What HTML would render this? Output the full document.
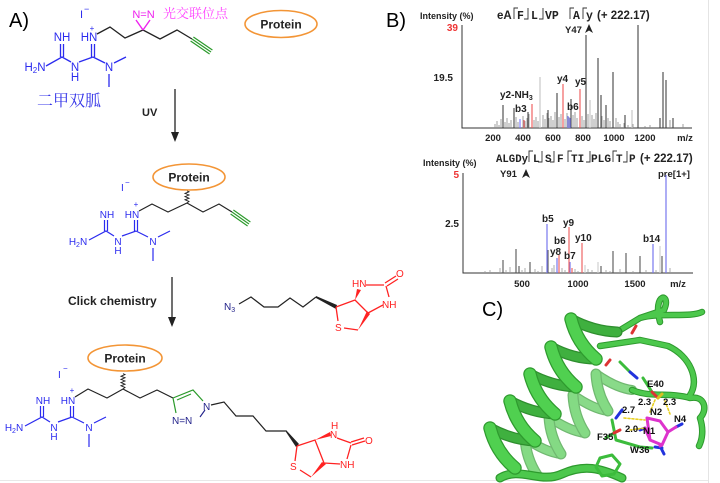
<!DOCTYPE html>
<html><head><meta charset="utf-8"><style>
html,body{margin:0;padding:0;background:#fff;}
svg{display:block;font-family:"Liberation Sans",Arial,sans-serif;}
</style></head><body>
<svg width="720" height="483" viewBox="0 0 720 483" xmlns="http://www.w3.org/2000/svg">
<rect width="720" height="483" fill="#fff"/>
<line x1="708.5" y1="0" x2="708.5" y2="483" stroke="#e4e4e4" stroke-width="1"/>
<line x1="0" y1="480.5" x2="708" y2="480.5" stroke="#e8e8e8" stroke-width="1"/>

<!-- Panel labels -->
<text x="9" y="27" font-size="20">A)</text>
<text x="386" y="27" font-size="20">B)</text>
<text x="482" y="316" font-size="20">C)</text>

<!-- ===== TOP STRUCTURE ===== -->
<g transform="translate(91,37)">
 <g fill="#2b2bef" font-size="11.5">
  <text x="-29" y="4" text-anchor="middle">NH</text>
  <text x="-2" y="4" text-anchor="middle">HN</text>
  <text x="1" y="-6" font-size="8" text-anchor="middle">+</text>
  <text x="-56" y="34" text-anchor="middle">H<tspan font-size="8" dy="2">2</tspan><tspan dy="-2">N</tspan></text>
  <text x="-16" y="34" text-anchor="middle">N</text>
  <text x="-16" y="44" text-anchor="middle">H</text>
  <text x="18" y="34" text-anchor="middle">N</text>
 </g>
 <g stroke="#2b2bef" stroke-width="1.3" fill="none">
  <path d="M-30.5 7V20M-27.5 7V20M-45 29L-29 20L-20 25M-12 25L2 20M0.5 20V7M3.5 20V7M2 20L14 26M23 26L35 20M18 37V50"/>
 </g>
</g>
<text x="80" y="18" font-size="11" fill="#2b2bef">I</text>
<text x="84" y="12" font-size="9" fill="#2b2bef">−</text>
<path d="M97 34L110 27L125 38L143 30L160 39L177 30L192 39" fill="none" stroke="#222" stroke-width="1.3"/>
<path d="M143 30L136 20M143 30L150 20" stroke="#ee22ee" stroke-width="1.4" fill="none"/>
<text x="143.5" y="18" font-size="11" fill="#ee22ee" text-anchor="middle">N=N</text>
<g stroke="#2a9a2a" stroke-width="1.2">
 <line x1="192" y1="39" x2="211" y2="52"/>
 <line x1="190.6" y1="41" x2="209.6" y2="54"/>
 <line x1="193.4" y1="37" x2="212.4" y2="50"/>
</g>
<text x="163" y="18" font-size="13" fill="#ff44ff" style="font-family:'Noto Serif CJK SC','Noto Sans CJK SC',serif">光交联位点</text>
<text x="37" y="106" font-size="16" fill="#3535e8" style="font-family:'Noto Serif CJK SC','Noto Sans CJK SC',serif">二甲双胍</text>
<ellipse cx="281" cy="24" rx="36" ry="13.5" fill="none" stroke="#f39536" stroke-width="1.6"/>
<text x="281" y="28.5" font-size="12" font-weight="bold" text-anchor="middle" fill="#222">Protein</text>

<!-- Arrow 1 -->
<line x1="175" y1="89" x2="175" y2="134" stroke="#222" stroke-width="1.3"/>
<polygon points="171,132 179,132 175,142" fill="#222"/>
<text x="142" y="116" font-size="11" font-weight="bold" fill="#222">UV</text>

<!-- ===== MIDDLE STRUCTURE ===== -->
<g transform="translate(134,214)">
 <g fill="#2b2bef" font-size="10">
  <text x="-27" y="4" text-anchor="middle">NH</text>
  <text x="-2" y="4" text-anchor="middle">HN</text>
  <text x="2" y="-7" font-size="8" text-anchor="middle">+</text>
  <text x="-56" y="31" text-anchor="middle">H<tspan font-size="7" dy="2">2</tspan><tspan dy="-2">N</tspan></text>
  <text x="-16" y="31" text-anchor="middle">N</text>
  <text x="-16" y="40" text-anchor="middle">H</text>
  <text x="19" y="31" text-anchor="middle">N</text>
 </g>
 <g stroke="#2b2bef" stroke-width="1.2" fill="none">
  <path d="M-29.5 6V17M-26.5 6V17M-45 26L-28 17L-20 22M-12 22L2 17M0.5 17V6M3.5 17V6M2 17L14 23M24 23L36 17M19 34V47"/>
 </g>
</g>
<text x="121" y="191" font-size="10" fill="#2b2bef">I</text>
<text x="125" y="185" font-size="8" fill="#2b2bef">−</text>
<path d="M139 211L152 204L168 212L187 203L203 212L219 204L232 212" fill="none" stroke="#222" stroke-width="1.2"/>
<path d="M187 203l2-1.6l-4-1.6l4-1.6l-4-1.6l4-1.6l-4-1.6l4-1.6l-2-1" fill="none" stroke="#222" stroke-width="0.9"/>
<g stroke="#2a9a2a" stroke-width="1.1">
 <line x1="232" y1="212" x2="249" y2="224"/>
 <line x1="230.6" y1="214" x2="247.6" y2="226"/>
 <line x1="233.4" y1="210" x2="250.4" y2="222"/>
</g>
<ellipse cx="189" cy="177" rx="36" ry="13" fill="none" stroke="#f39536" stroke-width="1.6"/>
<text x="189" y="181.5" font-size="12" font-weight="bold" text-anchor="middle" fill="#222">Protein</text>

<!-- Arrow 2 -->
<line x1="172" y1="277" x2="172" y2="319" stroke="#222" stroke-width="1.3"/>
<polygon points="168,317 176,317 172,327" fill="#222"/>
<text x="68" y="305" font-size="12" font-weight="bold" fill="#222">Click chemistry</text>

<!-- Azide biotin -->
<text x="224" y="310" font-size="10" fill="#22228a">N<tspan font-size="7" dy="2">3</tspan></text>
<path d="M239 304L251 297L264 307L278 307L290 298L303 307L316 297" fill="none" stroke="#222" stroke-width="1.2"/>
<polygon points="316,296 316,298 336,309 337,305" fill="#222"/>
<g stroke="#ff2222" stroke-width="1.3" fill="none">
 <path d="M336 307L355 300L368 313M336 307L338 321M344 328L358 330M366 285L384 285M386 286L389 297M383 305L368 313"/>
 <path d="M385 283L396 276M387 286L398 279"/>
</g>
<polygon points="358,330 367,311 370,314" fill="#ff2222"/>
<polygon points="355,300 357,289 361,290" fill="#ff2222"/>
<text x="352" y="287" font-size="10" fill="#ff2222">HN</text>
<text x="396" y="277" font-size="10" fill="#ff2222">O</text>
<text x="382" y="308" font-size="10" fill="#ff2222">NH</text>
<text x="335" y="331" font-size="10" fill="#ff2222">S</text>

<!-- ===== BOTTOM STRUCTURE ===== -->
<g transform="translate(70,400)">
 <g fill="#2b2bef" font-size="10">
  <text x="-27" y="4" text-anchor="middle">NH</text>
  <text x="-2" y="4" text-anchor="middle">HN</text>
  <text x="2" y="-7" font-size="8" text-anchor="middle">+</text>
  <text x="-56" y="31" text-anchor="middle">H<tspan font-size="7" dy="2">2</tspan><tspan dy="-2">N</tspan></text>
  <text x="-16" y="31" text-anchor="middle">N</text>
  <text x="-16" y="40" text-anchor="middle">H</text>
  <text x="19" y="31" text-anchor="middle">N</text>
 </g>
 <g stroke="#2b2bef" stroke-width="1.2" fill="none">
  <path d="M-29.5 6V17M-26.5 6V17M-45 26L-28 17L-20 22M-12 22L2 17M0.5 17V6M3.5 17V6M2 17L14 23M24 23L36 17M19 34V47"/>
 </g>
</g>
<text x="58" y="378" font-size="10" fill="#2b2bef">I</text>
<text x="63" y="371" font-size="8" fill="#2b2bef">−</text>
<ellipse cx="125" cy="358" rx="37" ry="13" fill="none" stroke="#f39536" stroke-width="1.6"/>
<text x="125" y="362.5" font-size="12" font-weight="bold" text-anchor="middle" fill="#222">Protein</text>
<path d="M75 397L88 389L107 398L123 389L140 398L157 390L173 398" fill="none" stroke="#222" stroke-width="1.2"/>
<path d="M123 389l2-1.6l-4-1.6l4-1.6l-4-1.6l4-1.6l-4-1.6l4-1.6l-4-1.6l4-1.6l-2-1" fill="none" stroke="#222" stroke-width="0.9"/>
<!-- triazole -->
<g stroke="#2a9a2a" stroke-width="1.2" fill="none">
 <path d="M173 398L193 390L203 401M173 398L176 413M177 400L191 394"/>
</g>
<path d="M205 410L200 417" stroke="#22228a" stroke-width="1.1"/>
<text x="203" y="410" font-size="10" fill="#22228a">N</text>
<text x="172" y="424" font-size="10" fill="#22228a">N=N</text>
<path d="M211 405L224 402L236 416L253 416L266 431L286 431" fill="none" stroke="#222" stroke-width="1.2"/>
<polygon points="286,430 286,432 296,447 299,444" fill="#222"/>
<g stroke="#ff2222" stroke-width="1.3" fill="none">
 <path d="M297 446L315 440L324 463M297 446L295 461M300 470L311 477M337 438L351 443M347 459L351 445M340 464L324 463"/>
 <path d="M351 442L364 438M352 445L365 441"/>
</g>
<polygon points="315,440 330,432 331,436" fill="#ff2222"/>
<polygon points="311,477 322,462 326,464" fill="#ff2222"/>
<text x="331" y="429" font-size="10" fill="#ff2222">H</text>
<text x="330" y="438" font-size="10" fill="#ff2222">N</text>
<text x="365" y="444" font-size="10" fill="#ff2222">O</text>
<text x="340" y="468" font-size="10" fill="#ff2222">NH</text>
<text x="290" y="470" font-size="10" fill="#ff2222">S</text>

<!-- ===== SPECTRUM TOP ===== -->
<text x="420" y="19" font-size="9" font-weight="bold" fill="#222">Intensity (%)</text>
<text x="458" y="31" font-size="10" font-weight="bold" fill="#e33" text-anchor="end">39</text>
<text x="453" y="81" font-size="10" font-weight="bold" fill="#222" text-anchor="end">19.5</text>
<text x="497" y="19" font-size="11.5" font-weight="bold" fill="#222">eA</text>
<g style="font-family:'Liberation Mono',monospace" font-weight="bold" font-size="11.5" fill="#222">
 <text x="517" y="19">F</text><text x="531" y="19">L</text><text x="545" y="19">VP</text><text x="573" y="19">A</text><text x="586" y="19">y</text>
</g>
<path d="M514 19V8H518M528 8V19H524M543 8V19H539M570 19V8H574M583 19V8H587" fill="none" stroke="#333" stroke-width="0.9"/>
<text x="597" y="19" font-size="11.5" font-weight="bold" fill="#222">(+ 222.17)</text>
<text x="565" y="33" font-size="9.5" font-weight="bold" fill="#222">Y47</text>
<polygon points="589,24 585,33 589,30.5 593,33" fill="#222"/>
<path d="M462 25V128H692" fill="none" stroke="#333" stroke-width="1"/>
<g stroke="#888" stroke-width="0.8">
<path d="M495 128V124M497 128V121M499 128V125M501 128V119M505 128V122M507 128V118M509 128V123M511 128V120M516 128V117M518 128V122M523 128V116M525 128V121M527 128V118M529 128V114M534 128V120M536 128V117M538 128V121M543 128V115M545 128V119M547 128V113M549 128V118M551 128V116M553 128V120M555 128V112M559 128V117M561 128V114M565 128V119M567 128V113M569 128V117M573 128V115M575 128V112M577 128V118M582 128V116M584 128V120M588 128V114M590 128V118M592 128V115M594 128V119M596 128V113M602 128V116M604 128V120M606 128V114M608 128V118M610 128V121M616 128V118M618 128V122M620 128V124M624 128V123M628 128V125M633 128V124M645 128V126M650 128V125M670 128V120M683 128V124"/>
</g>
<g stroke="#444" stroke-width="1.1">
<path d="M503 128V105M514 128V108M557 128V93M571 128V99M586 128V35M598 128V58M601 128V95M613 128V72M638 128V25M663 128V72M666 128V80M660 128V118M673 128V118M548 128V110M528 128V112M606 128V105M625 128V115"/>
</g>
<path d="M540 128V77M590 128V100M632 128V110" stroke="#c4c4c4" stroke-width="1.1"/>
<path d="M532 128V104M563 128V84M580 128V89M524 128V120" stroke="#e55" stroke-width="1.1"/>
<path d="M520 128V119M568 128V116M570 128V118" stroke="#77f" stroke-width="1.1"/>
<g font-size="10" font-weight="bold" fill="#222">
 <text x="500" y="98">y2-NH<tspan font-size="7" dy="2">3</tspan></text>
 <text x="515" y="112">b3</text>
 <text x="557" y="82">y4</text>
 <text x="575" y="85">y5</text>
 <text x="567" y="110">b6</text>
</g>
<g font-size="9.5" font-weight="bold" fill="#222" text-anchor="middle">
 <text x="493" y="141">200</text><text x="523" y="141">400</text><text x="553" y="141">600</text><text x="583" y="141">800</text><text x="614" y="141">1000</text><text x="645" y="141">1200</text><text x="685" y="141">m/z</text>
</g>

<!-- ===== SPECTRUM BOTTOM ===== -->
<g style="font-family:'Liberation Mono',monospace" font-weight="bold" font-size="11" fill="#222">
 <text x="496" y="162" textLength="32" lengthAdjust="spacingAndGlyphs">ALGDy</text>
 <text x="533" y="162">L</text><text x="545" y="162">S</text><text x="557" y="162">F</text><text x="571" y="162">TI</text><text x="591" y="162" textLength="20" lengthAdjust="spacingAndGlyphs">PLG</text><text x="616" y="162">T</text><text x="629" y="162">P</text>
</g>
<path d="M529 162V151H533M542 151V162H538M554 151V162H550M568 162V151H572M590 151V162H586M613 162V151H617M627 151V162H623" fill="none" stroke="#333" stroke-width="0.9"/>
<text x="640" y="162" font-size="11.5" font-weight="bold" fill="#222">(+ 222.17)</text>
<text x="423" y="166" font-size="9" font-weight="bold" fill="#222">Intensity (%)</text>
<text x="500" y="177" font-size="9.5" font-weight="bold" fill="#222">Y91</text>
<polygon points="526,169 522,178 526,175.5 530,178" fill="#222"/>
<text x="658" y="177" font-size="9.5" font-weight="bold" fill="#222">pre[1+]</text>
<text x="459" y="178" font-size="10" font-weight="bold" fill="#e33" text-anchor="end">5</text>
<text x="459" y="227" font-size="10" font-weight="bold" fill="#222" text-anchor="end">2.5</text>
<path d="M463 173V273H693" fill="none" stroke="#333" stroke-width="1"/>
<path d="M485 273V271M490 273V270M495 273V272M500 273V268M506 273V270M510 273V267M522 273V270M525 273V268M535 273V269M538 273V271M542 273V266M552 273V268M554 273V265M562 273V268M565 273V270M575 273V269M578 273V271M588 273V269M592 273V270M606 273V270M610 273V271M620 273V269M633 273V271M646 273V270M656 273V270M670 273V268" stroke="#999" stroke-width="0.8"/>
<path d="M516 273V249M548 273V250M613 273V251M626 273V253M640 273V256M503 273V260M530 273V262M662 273V256M601 273V266M519 273V266" stroke="#555" stroke-width="1.1"/>
<path d="M660 273V246M598 273V262M585 273V265" stroke="#ccc" stroke-width="1.1"/>
<path d="M666 273V175M547 273V224M653 273V244M570 273V262M557 273V258" stroke="#7777ee" stroke-width="1.2"/>
<path d="M569 273V227M582 273V243M559 273V255M572 273V268" stroke="#ee6666" stroke-width="1.2"/>
<g font-size="10" font-weight="bold" fill="#222">
 <text x="542" y="222">b5</text><text x="563" y="226">y9</text><text x="554" y="244">b6</text><text x="575" y="241">y10</text>
 <text x="550" y="255">y8</text><text x="564" y="259">b7</text><text x="643" y="242">b14</text>
</g>
<g font-size="9.5" font-weight="bold" fill="#222" text-anchor="middle">
 <text x="522" y="287">500</text><text x="578" y="287">1000</text><text x="635" y="287">1500</text><text x="678" y="287">m/z</text>
</g>

<!-- ===== PROTEIN STRUCTURE ===== -->
<g stroke-linecap="round" stroke-linejoin="round" fill="none">
 <!-- helix 2 behind -->
 <g opacity="0.72">
  <path d="M525 438Q545 452 561 454M549 417Q569 431 585 433M573 395Q593 409 608 411M596 374Q616 388 632 390" stroke="#3a9e3a" stroke-width="10"/>
  <path d="M525 438Q545 452 561 454M549 417Q569 431 585 433M573 395Q593 409 608 411M596 374Q616 388 632 390" stroke="#5ccc5c" stroke-width="7.5"/>
  <path d="M537 475Q526 458 525 438M561 454Q550 437 549 417M585 433Q574 416 573 395M608 411Q597 394 596 374" stroke="#3a9e3a" stroke-width="11"/>
  <path d="M537 475Q526 458 525 438M561 454Q550 437 549 417M585 433Q574 416 573 395M608 411Q597 394 596 374" stroke="#55cc55" stroke-width="8.5"/>
 </g>
 <!-- loops -->
 <path d="M500 478C520 466 540 484 562 474S600 468 622 478" stroke="#2e9a2e" stroke-width="9"/>
 <path d="M500 478C520 466 540 484 562 474S600 468 622 478" stroke="#4cc84c" stroke-width="6.5"/>
 <path d="M617 332L640 318L664 310M600 346L640 340L668 346M664 310C672 292 652 292 660 322M668 346C690 356 700 380 690 395M632 390C650 398 670 392 690 398M690 398C705 395 708 410 700 418M700 418C704 430 702 440 699 446M640 318C660 312 690 318 702 312" stroke="#2e9a2e" stroke-width="6.5"/>
 <path d="M617 332L640 318L664 310M600 346L640 340L668 346M664 310C672 292 652 292 660 322M668 346C690 356 700 380 690 395M632 390C650 398 670 392 690 398M690 398C705 395 708 410 700 418M700 418C704 430 702 440 699 446M640 318C660 312 690 318 702 312" stroke="#4cc84c" stroke-width="4.5"/>
 <!-- helix 1 back -->
 <path d="M490 428Q512 440 535 441M510 401Q532 413 555 414M530 374Q552 386 576 387M551 347Q573 359 596 359M571 319Q593 331 617 332" stroke="#2e8e2e" stroke-width="11"/>
 <path d="M490 428Q512 440 535 441M510 401Q532 413 555 414M530 374Q552 386 576 387M551 347Q573 359 596 359M571 319Q593 331 617 332" stroke="#3fb03f" stroke-width="8.5"/>
 <!-- helix 1 front -->
 <path d="M515 468Q496 452 490 428M535 441Q516 425 510 401M555 414Q536 398 530 374M576 387Q557 371 551 347M596 359Q577 343 571 319" stroke="#2e9a2e" stroke-width="13.5"/>
 <path d="M515 468Q496 452 490 428M535 441Q516 425 510 401M555 414Q536 398 530 374M576 387Q557 371 551 347M596 359Q577 343 571 319" stroke="#50d050" stroke-width="11"/>
 <!-- sticks -->
 <path d="M620 362L630 372M643 378L652 392M612 420L616 440L640 447L652 448M600 458L612 455L620 464L614 474L602 476L596 467Z M606 438L614 433" stroke="#3cbc3c" stroke-width="3"/>
 <path d="M630 372L637 378M616 418L622 410M655 447L662 448M676 427L682 424M660 446L664 454M645 428L640 430" stroke="#2233dd" stroke-width="3"/>
 <path d="M652 392L658 398M614 433L620 430M632 333L636 326M606 365L610 360" stroke="#dd3333" stroke-width="3"/>
 <path d="M658 398L662 394" stroke="#d8c020" stroke-width="3"/>
 <path d="M647 418L660 421L668 432L662 445L650 440L647 418M668 432L676 427M662 445L660 446M650 440L645 428" stroke="#dd33cc" stroke-width="3"/>
 <path d="M655 400L650 412M665 401L670 414M624 418L645 420M630 430L645 428" stroke="#e8d020" stroke-width="1.6" stroke-dasharray="2 2"/>
</g>
<g font-size="9.5" font-weight="bold" fill="#111">
 <text x="647" y="387">E40</text>
 <text x="638" y="405">2.3</text>
 <text x="663" y="405">2.3</text>
 <text x="622" y="413">2.7</text>
 <text x="650" y="415">N2</text>
 <text x="674" y="422">N4</text>
 <text x="625" y="432">2.0</text>
 <text x="643" y="434">N1</text>
 <text x="597" y="440">F35</text>
 <text x="630" y="453">W36</text>
</g>
</svg>
</body></html>
